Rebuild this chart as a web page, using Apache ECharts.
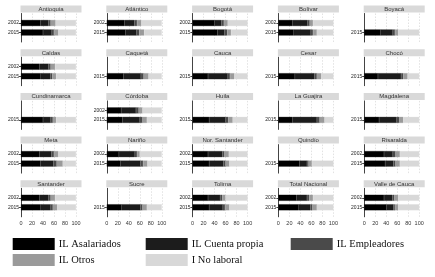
<!DOCTYPE html>
<html><head><meta charset="utf-8">
<script src="https://cdn.jsdelivr.net/npm/echarts@6/dist/echarts.min.js"></script>
<style>html,body{margin:0;padding:0;background:#fff}#c{width:435px;height:277px}</style>
</head><body><div id="c"></div>
<script>
const panels = ['Antioquia','Atlántico','Bogotá','Bolívar','Boyacá',
 'Caldas','Caquetá','Cauca','Cesar','Chocó',
 'Cundinamarca','Córdoba','Huila','La Guajira','Magdalena',
 'Meta','Nariño','Nor. Santander','Quindío','Risaralda',
 'Santander','Sucre','Tolima','Total Nacional','Valle de Cauca'];
const years = ['2002','2015'];
const xTicks = [0,20,40,60,80,100];
const seriesNames = ['IL Asalariados','IL Cuenta propia','IL Empleadores','IL Otros','I No laboral'];

// values per panel (order of panels), null = year not reported
const asalariados2002 = [35,32,40,25,null,33,null,null,null,null,null,26,null,null,null,33,22,28,null,36,33,null,28,33,36];
const cuentaPropia2002 = [15,18,12,28,null,17,null,null,null,null,null,27,null,null,null,22,29,26,null,16,17,null,22,19,15];
const empleadores2002 = [4,5,5,4,null,4,null,null,null,null,null,5,null,null,null,5,4,4,null,5,4,null,4,4,4];
const otros2002 = [9,8,7,6,null,8,null,null,null,null,null,7,null,null,null,8,5,8,null,8,8,null,6,7,7];
const noLaboral2002 = [37,37,36,37,null,38,null,null,null,null,null,35,null,null,null,32,40,34,null,35,38,null,40,37,38];

const asalariados2015 = [40,34,45,28,30,36,30,28,30,25,40,28,30,25,27,35,25,30,38,38,36,27,30,37,40];
const cuentaPropia2015 = [16,20,13,31,22,17,32,36,35,42,14,32,30,45,32,24,36,26,14,15,18,34,25,21,13];
const empleadores2015 = [4,5,5,4,4,4,5,4,5,4,4,5,5,5,5,6,5,4,3,4,4,4,4,4,3];
const otros2015 = [8,9,7,7,6,7,9,8,8,8,6,8,8,9,7,11,8,7,6,8,8,8,8,8,6];
const noLaboral2015 = [32,32,30,30,38,36,24,24,22,21,36,27,27,16,29,24,26,33,39,35,34,27,33,30,38];

const colors = ['#000000','#1c1c1c','#4a4a4a','#9a9a9a','#d8d8d8'];
const data2002 = [asalariados2002,cuentaPropia2002,empleadores2002,otros2002,noLaboral2002];
const data2015 = [asalariados2015,cuentaPropia2015,empleadores2015,otros2015,noLaboral2015];

const cats = ['', years[0], years[1], ''];
const colStep = 85.8, rowStep = 43.7;
const grid = [], xAxis = [], yAxis = [], series = [], graphic = [];
panels.forEach((name, i) => {
  const c = i % 5, r = Math.floor(i / 5);
  const left = 21 + colStep * c;
  const stripTop = 5.5 + rowStep * r;
  const top = stripTop + 8;
  const has2002 = asalariados2002[i] !== null;
  grid.push({left: left, top: top, width: 55, height: 28.5, containLabel: false});
  xAxis.push({type: 'value', gridIndex: i, min: xTicks[0], max: xTicks[xTicks.length-1], interval: 20,
    axisLine: {show: false}, axisTick: {show: false},
    axisLabel: {show: r === 4, fontSize: 5.5, color: '#333', margin: 4, fontFamily: 'Liberation Sans'},
    splitLine: {show: true, lineStyle: {color: '#cfcfcf', width: 0.6, type: [1.5, 1.5]}}});
  yAxis.push({type: 'category', gridIndex: i, data: cats, inverse: true, boundaryGap: false,
    axisLine: {show: true, lineStyle: {color: '#444', width: 1}},
    axisTick: {show: true, length: 2, lineStyle: {color: '#444'},
      interval: (idx, v) => v === '2015' || (v === '2002' && has2002)},
    axisLabel: {fontSize: 5, color: '#222', margin: 2, fontFamily: 'Liberation Sans',
      interval: 0,
      formatter: v => (v === '2015' || (v === '2002' && has2002)) ? v : ''},
    splitLine: {show: false}});
  seriesNames.forEach((sn, k) => {
    series.push({type: 'bar', name: sn, xAxisIndex: i, yAxisIndex: i, stack: 'p' + i,
      barWidth: 6, itemStyle: {color: colors[k], borderColor: colors[k], borderWidth: 0.3},
      data: [null, data2002[k][i], data2015[k][i], null]});
  });
  graphic.push({type: 'rect', shape: {x: left - 0.5, y: stripTop, width: 61, height: 7}, style: {fill: '#d9d9d9'}, silent: true});
  graphic.push({type: 'text', x: left + 30, y: stripTop + 3.8,
    style: {text: name, fill: '#333', font: '6px "Liberation Sans"', align: 'center', verticalAlign: 'middle', textAlign: 'center', textVerticalAlign: 'middle'}, silent: true});
});

const legendBase = {orient: 'vertical', top: 238, padding: 0, itemWidth: 40, itemHeight: 10, itemGap: 4, icon: 'rect',
  textStyle: {fontFamily: 'Liberation Serif', fontSize: 10.5, color: '#111'}};
const chart = echarts.init(document.getElementById('c'), null, {renderer: 'canvas'});
chart.setOption({
  animation: false,
  grid, xAxis, yAxis, series, graphic,
  legend: [
    Object.assign({}, legendBase, {left: 12.7, data: [seriesNames[0], seriesNames[3]]}),
    Object.assign({}, legendBase, {left: 145.7, data: [seriesNames[1], seriesNames[4]]}),
    Object.assign({}, legendBase, {left: 290.7, data: [seriesNames[2]]})
  ]
});
</script></body></html>
